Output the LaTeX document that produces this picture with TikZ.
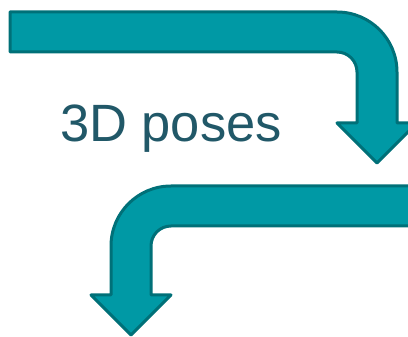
\documentclass[tikz,border=0pt]{standalone}
\usepackage{fontspec}
\setmainfont{Liberation Sans}
\definecolor{arrowfill}{HTML}{0099A5}
\definecolor{arrowline}{HTML}{007078}
\definecolor{labeltext}{HTML}{215868}
\begin{document}
\begin{tikzpicture}[x=1pt,y=1pt,
  bentarrow/.style={fill=arrowfill,draw=arrowline,line width=3pt,line join=round}]
\useasboundingbox (0,0) rectangle (408,337);
\clip (0,0) rectangle (408,337);
% top arrow
\draw[bentarrow] (10,325) -- (337,325) arc[start angle=90,end angle=0,radius=60]
  -- (397,214) -- (417,214) -- (377,174) -- (337,214) -- (357,214) -- (357,265)
  arc[start angle=0,end angle=90,radius=20] -- (10,285) -- cycle;
% bottom arrow
\draw[bentarrow] (420,151) -- (171,151) arc[start angle=90,end angle=180,radius=60]
  -- (111,42) -- (91,42) -- (131,2) -- (171,42) -- (151,42) -- (151,91)
  arc[start angle=180,end angle=90,radius=20] -- (420,111) -- cycle;
\node[text=labeltext,font=\fontsize{52.5}{60}\selectfont,anchor=base] (label) at (171,195) {3D poses};
\end{tikzpicture}
\end{document}
